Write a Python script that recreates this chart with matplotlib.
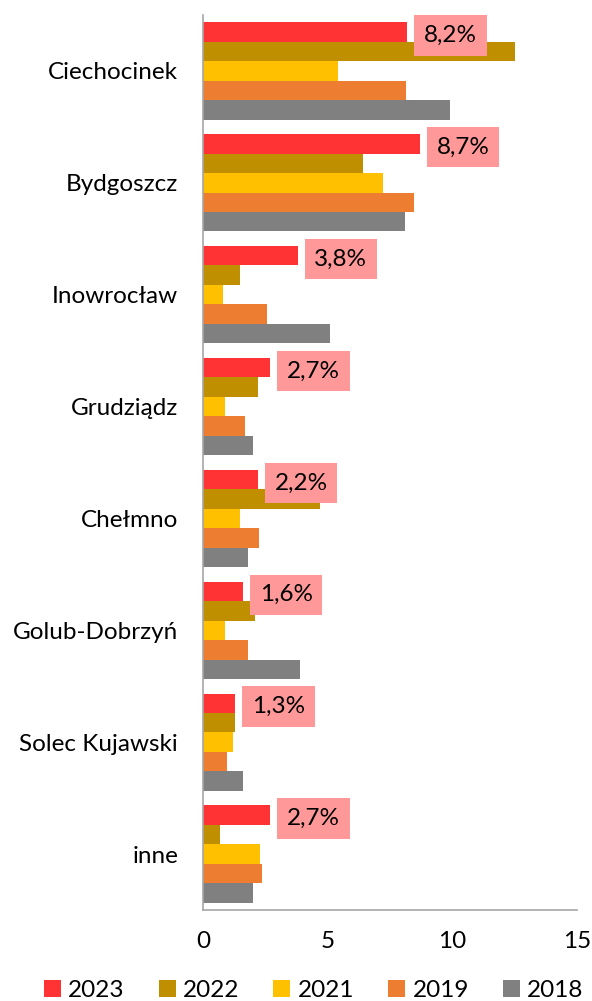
import numpy as np
import matplotlib.pyplot as plt

plt.rcParams['font.family'] = ['Lato', 'DejaVu Sans']

cities = ["Ciechocinek", "Bydgoszcz", "Inowrocław", "Grudziądz", "Chełmno",
          "Golub-Dobrzyń", "Solec Kujawski", "inne"]
years = ["2023", "2022", "2021", "2019", "2018"]
colors = ["#FF3333", "#BF8F00", "#FFC000", "#ED7D31", "#808080"]

v2023 = [8.2, 8.7, 3.8, 2.7, 2.2, 1.6, 1.3, 2.7]
v2022 = [12.5, 6.4, 1.5, 2.2, 4.7, 2.1, 1.3, 0.7]
v2021 = [5.4, 7.2, 0.8, 0.9, 1.5, 0.9, 1.2, 2.3]
v2019 = [8.15, 8.45, 2.55, 1.7, 2.25, 1.8, 0.95, 2.35]
v2018 = [9.9, 8.1, 5.1, 2.0, 1.8, 3.9, 1.6, 2.0]
series = [v2023, v2022, v2021, v2019, v2018]

fig = plt.figure(figsize=(5.92, 10.01), dpi=100)
ax = fig.add_axes([203 / 592, 1 - 910 / 1001, 374 / 592, 895 / 1001])

y = np.arange(len(cities))
bar_h = 0.174
for k, (vals, col, yr) in enumerate(zip(series, colors, years)):
    ax.barh(y + (k - 2) * bar_h, vals, height=bar_h, color=col, label=yr)

# percentage boxes next to the 2023 bars
for yi, v in zip(y, v2023):
    ax.annotate(f"{v:.1f}%".replace(".", ","), xy=(v, yi - 2 * bar_h + 0.03),
                xytext=(12, 0), textcoords="offset points", va="center", ha="left",
                fontsize=17.5,
                bbox=dict(boxstyle="square,pad=0.4", fc="#FF9999", ec="none"))

ax.set_xlim(0, 15)
ax.set_xticks([0, 5, 10, 15])
ax.set_ylim(len(cities) - 0.5, -0.5)
ax.set_yticks(y)
ax.set_yticklabels(cities)
ax.tick_params(axis="both", length=0, labelsize=17.5)
ax.tick_params(axis="x", pad=15)
ax.tick_params(axis="y", pad=18)
for s in ["top", "right"]:
    ax.spines[s].set_visible(False)
for s in ["left", "bottom"]:
    ax.spines[s].set_color("#A6A6A6")
    ax.spines[s].set_linewidth(1.2)

fig.legend(loc="lower center", bbox_to_anchor=(0.53, -0.022), ncol=5, frameon=False,
           fontsize=17.5, handlelength=0.7, handleheight=0.7, handletextpad=0.3,
           columnspacing=1.4)

fig.savefig("out.png", dpi=100)
